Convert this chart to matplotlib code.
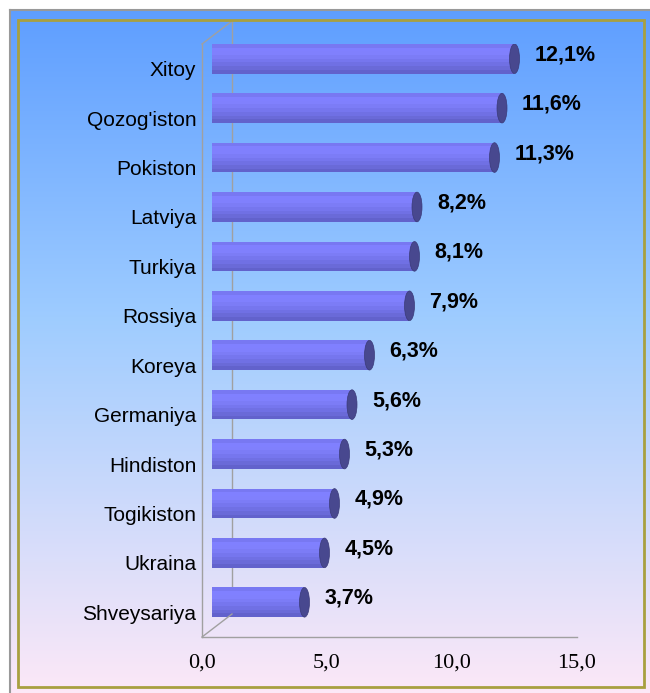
import matplotlib
matplotlib.use("Agg")
import matplotlib.pyplot as plt
import matplotlib.transforms as mtransforms
from matplotlib.patches import Ellipse, Rectangle
from matplotlib.lines import Line2D
from matplotlib.ticker import FuncFormatter
import numpy as np

# data (bottom -> top)
countries = ["Shveysariya", "Ukraina", "Togikiston", "Hindiston", "Germaniya", "Koreya",
             "Rossiya", "Turkiya", "Latviya", "Pokiston", "Qozog'iston", "Xitoy"]
shares = [3.7, 4.5, 4.9, 5.3, 5.6, 6.3, 7.9, 8.1, 8.2, 11.3, 11.6, 12.1]
x_ticks = [0, 5, 10, 15]

W, H = 650, 693
fig = plt.figure(figsize=(W / 100, H / 100), dpi=100)
fig.patch.set_facecolor("white")

# background gradient panel
bg = fig.add_axes([10 / W, 0, 1 - 10 / W, (H - 10) / H])
top = np.array([0.37, 0.62, 1.0])
mid = np.array([0.62, 0.80, 1.0])
bot = np.array([0.99, 0.91, 0.97])
t = np.linspace(0, 1, 256)[:, None]
grad = np.where(t < 0.45, top + (mid - top) * (t / 0.45),
                mid + (bot - mid) * ((t - 0.45) / 0.55))
bg.imshow(grad[:, None, :], aspect="auto", extent=[0, 1, 0, 1])
bg.set_xticks([]); bg.set_yticks([])
for s in ["right", "bottom"]:
    bg.spines[s].set_visible(False)
for s in ["top", "left"]:
    bg.spines[s].set_color("#999999")
    bg.spines[s].set_linewidth(1.5)

fig.patches.append(Rectangle((18 / W, (H - 687) / H), (644 - 18) / W, (687 - 20) / H,
                             transform=fig.transFigure, fill=False,
                             edgecolor="#a8a040", linewidth=2, zorder=5))

# main axes: front plane
ax = fig.add_axes([202 / W, (H - 637) / H, 375 / W, (637 - 44) / H])
ax.set_facecolor("none")
ax.set_xlim(0, 15)
ax.set_ylim(-0.5, len(countries) - 0.5)
for s in ax.spines.values():
    s.set_visible(False)

# 3D depth frame lines
dx, dy = 30 / 100, 23 / 100
depth = mtransforms.ScaledTranslation(dx, dy, fig.dpi_scale_trans)
gray = "#a0a0a0"
ax.add_line(Line2D([0, 0], [0, 1], transform=ax.transAxes, color=gray, lw=1, clip_on=False))
ax.add_line(Line2D([0, 1], [0, 0], transform=ax.transAxes, color=gray, lw=1, clip_on=False))
ax.add_line(Line2D([0, 0], [0, 1], transform=ax.transAxes + depth, color=gray, lw=1, clip_on=False))
fig.canvas.draw()
p0 = ax.transAxes.transform([(0, 0), (0, 1)])
for (px, py) in p0:
    fig.add_artist(Line2D([px / W, (px + dx * 100) / W], [py / H, (py + dy * 100) / H],
                          transform=fig.transFigure, color=gray, lw=1))

# bars (shifted into mid-depth), cylinder shading as stripes bottom -> top
shift = mtransforms.ScaledTranslation(0.10, 0.10, fig.dpi_scale_trans)
tr = ax.transData + shift
ypos = np.arange(len(countries))
h = 0.6
stripes = ["#6262cc", "#6a6ad8", "#7070e4", "#7676ee", "#7c7cf6", "#8080fd", "#8080ff", "#7878f2"]
n = len(stripes)
for k, col in enumerate(stripes):
    ax.barh(ypos - h / 2 + (k + 0.5) * h / n, shares, height=h / n * 1.02,
            color=col, lw=0, transform=tr, zorder=3)
for y, v in zip(ypos, shares):
    ax.add_patch(Ellipse((v, y), 0.4, h, facecolor="#48488f", edgecolor="#3a3a78",
                         lw=0.5, transform=tr, zorder=4))
    ax.annotate(f"{v:.1f}%".replace(".", ","), (v, y), xycoords=tr,
                xytext=(20, 4), textcoords="offset pixels", ha="left", va="center",
                fontsize=15.5, fontweight="bold", family="Liberation Sans", zorder=5)

ax.set_yticks(ypos)
ax.set_yticklabels(countries, family="Liberation Sans", fontsize=15)
ax.set_xticks(x_ticks)
ax.xaxis.set_major_formatter(FuncFormatter(lambda x, _: f"{x:.1f}".replace(".", ",")))
for lab in ax.get_xticklabels():
    lab.set_family("Liberation Serif")
    lab.set_fontsize(16)
ax.tick_params(axis="both", length=0)
ax.tick_params(axis="x", pad=12)
ax.tick_params(axis="y", pad=4)

fig.savefig("out.png", dpi=100)
